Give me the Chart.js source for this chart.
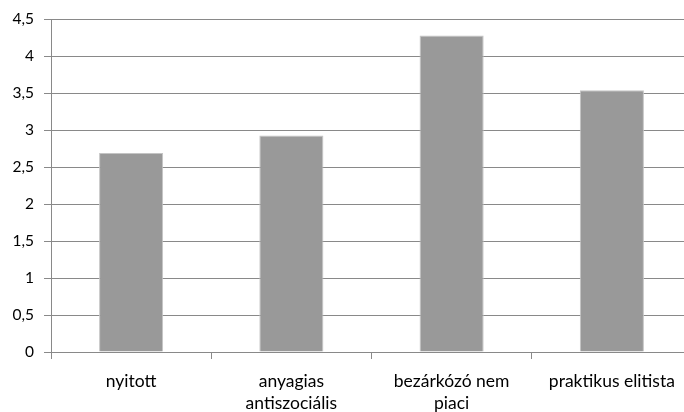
<!DOCTYPE html>
<html>
<head>
<meta charset="utf-8">
<script src="https://cdn.jsdelivr.net/npm/chart.js@4/dist/chart.umd.min.js"></script>
<style>
html,body{margin:0;padding:0;background:#fff;overflow:hidden;width:684px;height:412px;}
#wrap{width:692px;height:412px;position:relative;}
</style>
</head>
<body>
<div id="wrap"><canvas id="c" width="692" height="412"></canvas></div>
<script>
const categories = [["nyitott"], ["anyagias", "antiszociális"], ["bezárkózó nem", "piaci"], ["praktikus elitista"]];
const values = [2.69, 2.93, 4.28, 3.54];
const yTicks = [0, 0.5, 1, 1.5, 2, 2.5, 3, 3.5, 4, 4.5];

const FONT = "Lato, 'Open Sans', sans-serif";
new Chart(document.getElementById('c'), {
  type: 'bar',
  data: {
    labels: categories,
    datasets: [{
      data: values,
      backgroundColor: '#999999',
      borderColor: '#c4c4c4',
      borderWidth: 1,
      barPercentage: 0.4,
      categoryPercentage: 1.0
    }]
  },
  options: {
    responsive: false,
    animation: false,
    events: [],
    layout: { padding: { top: 18, right: 0, left: 0, bottom: 0 } },
    plugins: { legend: { display: false }, tooltip: { enabled: false } },
    scales: {
      x: {
        offset: true,
        grid: { display: true, drawOnChartArea: false, drawTicks: true, tickLength: 7, color: '#898989', offset: true },
        border: { display: true, color: '#898989', width: 1 },
        ticks: { color: '#000', font: { family: FONT, size: 17.5, lineHeight: 1.27 }, padding: 11, maxRotation: 0, autoSkip: false },
        afterFit: s => { s.height = 60; }
      },
      y: {
        min: 0, max: 4.5,
        afterBuildTicks: s => { s.ticks = yTicks.map(v => ({ value: v })); },
        grid: { color: '#898989', lineWidth: 1, drawTicks: true, tickLength: 7 },
        border: { display: true, color: '#898989', width: 1 },
        ticks: {
          color: '#000', font: { family: FONT, size: 15.5 }, padding: 10,
          callback: v => String(v).replace('.', ',')
        },
        afterFit: s => { s.width = 51; }
      }
    }
  }
});
</script>
</body>
</html>
